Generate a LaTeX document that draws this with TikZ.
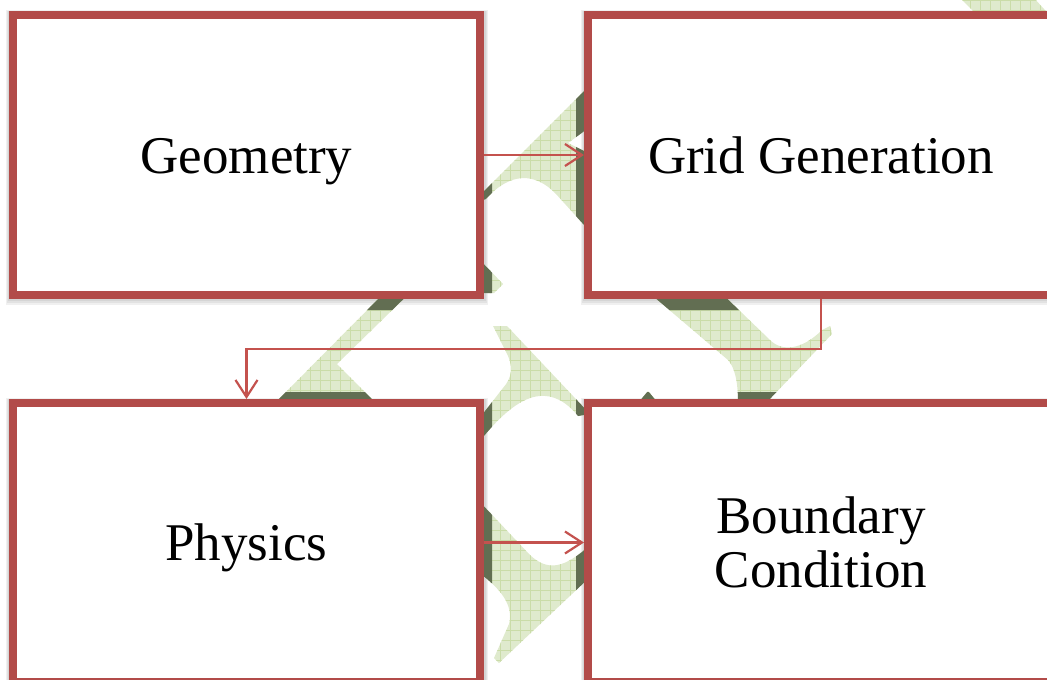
\documentclass[tikz,border=0pt]{standalone}
\usepackage{fontspec}
\setmainfont{Liberation Serif}
\usetikzlibrary{arrows.meta,calc,backgrounds}
\definecolor{boxred}{RGB}{178,75,73}
\definecolor{arrred}{RGB}{196,82,78}
\definecolor{wmfill}{RGB}{223,234,205}
\definecolor{wmgrid}{RGB}{202,220,168}
\definecolor{wmdark}{RGB}{98,110,82}
\begin{document}
\begin{tikzpicture}[x=1pt,y=-1pt,
  box/.style={draw=boxred, line width=8pt, fill=white, minimum width=467pt,
    minimum height=280pt, inner sep=0pt, font=\fontsize{53}{54}\selectfont, align=center},
  oneline/.style={text height=36pt, text depth=0pt},
  conn/.style={draw=arrred, line width=2.2pt, -{Straight Barb[length=17pt,width=22pt]}},
  boxshadow/.style={fill=black, opacity=0.06}]
\useasboundingbox (0,0) rectangle (1047,680);

% watermark pieces
\begin{scope}
  \clip (594,81) -- (470,205) -- (486,199) .. controls (510,172) and (535,172) .. (556,194)
        -- (594,236) -- (594,156) -- (568,143) -- (594,124) -- cycle
        (478,258) -- (503,284) -- (494,293) -- (478,293) -- cycle
        (397,280) -- (423,280) -- (337,364) -- (376,403) -- (275,403) -- cycle
        (493,326) -- (507,326) -- (590,414) -- (578,416)
        .. controls (565,400) and (552,395) .. (540,396)
        .. controls (522,397) and (502,414) .. (484,436) -- (478,436) -- (478,420)
        -- (503,388) .. controls (512,378) and (514,366) .. (506,352) -- cycle
        (478,572) .. controls (500,588) and (514,605) .. (509,624) -- (494,658)
        -- (499,663) -- (590,577) -- (590,545)
        .. controls (565,568) and (548,572) .. (530,555) -- (478,500) -- cycle
        (640,285) -- (713,285) -- (770,340) .. controls (782,352) and (802,350) .. (822,330)
        -- (830,326) -- (832,334) -- (766,403) -- (738,403)
        .. controls (738,382) and (735,368) .. (728,360) -- cycle
        (638,403) -- (648,391) -- (658,403) -- cycle
        (960,-2) -- (1034,-2) -- (1054,20) -- (982,20) -- cycle;
  \fill[wmfill] (0,0) rectangle (1047,680);
  \draw[wmgrid, line width=0.8pt, step=10pt] (0,0) grid (1047,680);
  \fill[wmdark] (484,11) rectangle (492,299) (484,399) rectangle (492,690)
    (576,11) rectangle (584,299) (576,399) rectangle (584,690)
    (9,299) rectangle (484,310) (584,299) rectangle (1060,310)
    (9,392) rectangle (484,399) (584,392) rectangle (1060,399);
\end{scope}

% boxes
\node[box, oneline] (geo) at (246.5,155) {Geometry};
\node[box, oneline, minimum width=466pt] (grid) at (821,155) {Grid Generation};
\node[box, oneline, minimum height=279pt] (phys) at (246.5,542.5) {Physics};
\node[box, minimum width=466pt, minimum height=279pt] (bc) at (821,542.5) {Boundary\\Condition};

% soft shadows behind the boxes
\begin{scope}[on background layer]
  \foreach \b in {geo,grid,phys,bc} {
    \fill[boxshadow] ($(\b.north west)+(-3,-1)$) rectangle ($(\b.south east)+(4,6)$);
    \fill[boxshadow] ($(\b.north west)+(-2,0)$) rectangle ($(\b.south east)+(3,4)$);
    \fill[boxshadow] ($(\b.north west)+(-1,0)$) rectangle ($(\b.south east)+(2,2)$);
  }
\end{scope}

% connectors
\coordinate (bend) at (246.5,349);
\draw[conn] (geo.east) -- (grid.west);
\draw[conn] (phys.east) -- (bc.west);
\draw[conn] (grid.south) |- (bend) -- (phys.north);
\end{tikzpicture}
\end{document}
